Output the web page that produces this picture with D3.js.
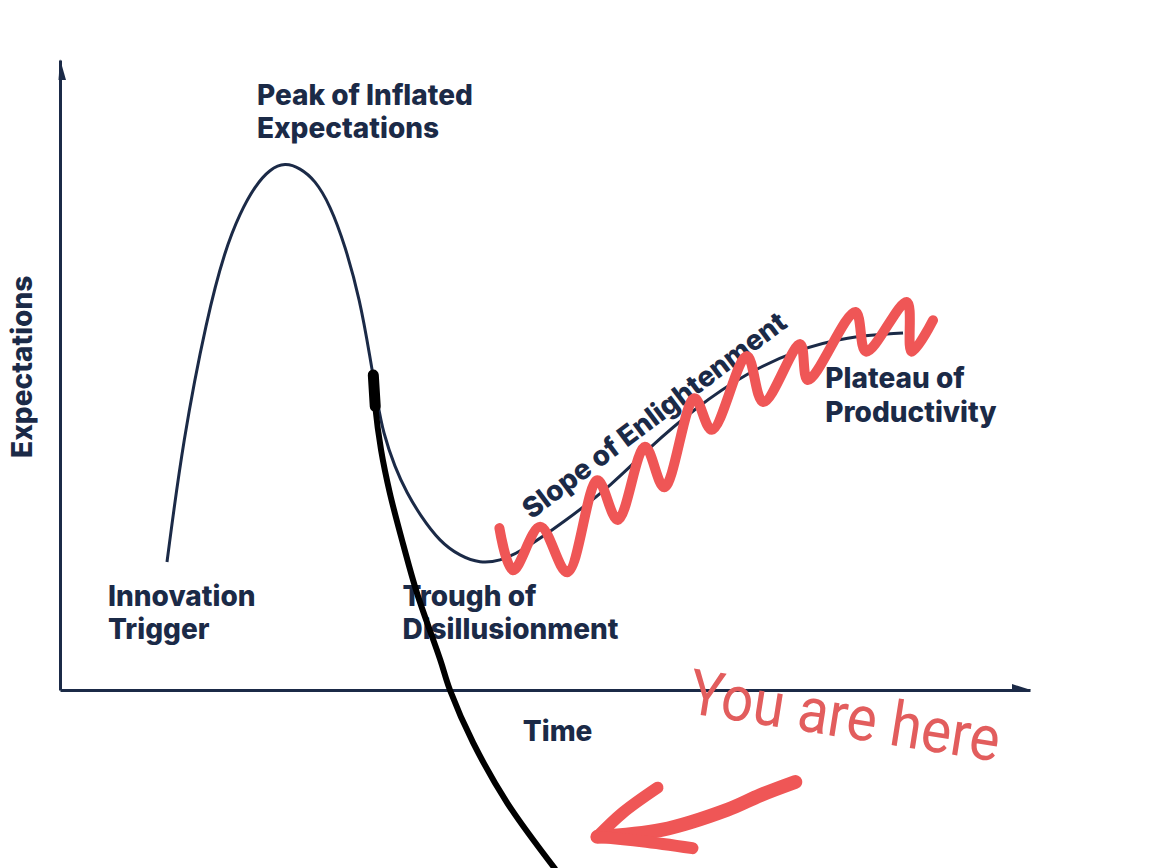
<!DOCTYPE html>
<html><head><meta charset="utf-8">
<script src="https://cdn.jsdelivr.net/npm/d3@7/dist/d3.min.js"></script>
<style>html,body{margin:0;padding:0;background:#fff;} svg{display:block;}</style>
</head><body><svg id="chart" width="1161" height="868"></svg>
<script>
// ---- data (Time 0-100, Expectations 0-100) ----
const hypeTime        = [11.03, 12.68, 15.15, 17.01, 18.56, 20.10, 21.65, 23.20, 24.74, 26.29, 27.84, 29.38, 30.93, 31.96, 32.78, 33.30, 34.54, 35.77, 37.11, 39.18, 41.24, 43.30, 45.36, 47.42, 51.86, 57.01, 60.48, 65.64, 70.79, 75.95, 81.10, 86.91];
const hypeExpectation = [20.32, 39.68, 59.21, 69.84, 75.71, 80.00, 82.70, 83.70, 82.86, 80.95, 76.98, 70.63, 61.90, 52.86, 45.24, 40.95, 35.24, 31.27, 27.78, 23.49, 21.27, 20.10, 20.48, 21.90, 26.51, 32.70, 38.10, 44.97, 50.32, 53.97, 56.08, 56.67];

const phaseNames = [["Innovation", "Trigger"], ["Peak of Inflated", "Expectations"], ["Trough of", "Disillusionment"], ["Slope of Enlightenment"], ["Plateau of", "Productivity"]];
const axisTitles = ["Time", "Expectations"];

// hand-drawn annotations
const zigTime = [45.3, 46.7, 49.5, 52.3, 55.4, 57.5, 60.3, 62.3, 65.4, 67.2, 70.8, 72.5, 76.3, 77.1, 82.0, 83.1, 87.3, 87.8, 90.0];
const zigExp  = [25.7, 19.0, 25.9, 18.7, 33.3, 27.0, 38.6, 32.2, 46.3, 41.3, 53.0, 45.7, 54.9, 49.2, 60.0, 53.7, 61.6, 53.7, 58.7];

const markerTime = [32.3, 32.5, 33.1, 34.0, 35.4, 36.8, 39.2, 40.2, 42.6, 46.1, 51.0];
const markerExp  = [50.0, 45.0, 38.1, 31.3, 23.0, 15.4, 4.8, 0.0, -8.4, -17.9, -28.3];

const arrowShaftTime = [75.8, 72.2, 68.8, 62.0, 55.4];
const arrowShaftExp  = [-14.6, -16.7, -19.0, -22.2, -23.3];
const arrowBarbUpTime = [55.4, 58.0, 61.6];
const arrowBarbUpExp  = [-23.3, -19.5, -15.5];
const arrowBarbLowTime = [55.4, 60.0, 65.2];
const arrowBarbLowExp  = [-23.3, -24.0, -25.1];
const youAreHere = "You are here";

// ---- drawing ----
const navy = "#1b2a47", red = "#ef5656";
const svg = d3.select("#chart");
const x = d3.scaleLinear().domain([0, 100]).range([60, 1030]);
const y = d3.scaleLinear().domain([0, 100]).range([690, 60]);
const zip = (a, b) => a.map((v, i) => [v, b[i]]);
const mkLine = c => d3.line().x(d => x(d[0])).y(d => y(d[1])).curve(c);

// axes
const xAxis = svg.append("g").attr("transform", `translate(0,${y(0)})`)
  .call(d3.axisBottom(x).ticks(0).tickSizeOuter(0));
const yAxis = svg.append("g").attr("transform", `translate(${x(0)},0)`)
  .call(d3.axisLeft(y).ticks(0).tickSizeOuter(0));
[xAxis, yAxis].forEach(g => g.select(".domain").attr("stroke", navy).attr("stroke-width", 3));
svg.append("path").attr("fill", navy)
  .attr("d", `M${x(100)+1},${y(0)} L${x(100)-18},${y(0)-6} L${x(100)-18},${y(0)+1.5} Z`);
svg.append("path").attr("fill", navy)
  .attr("d", `M${x(0)},${y(100)-1} L${x(0)+6},${y(100)+20} L${x(0)-1.5},${y(100)+20} Z`);

// hype curve
svg.append("path").datum(zip(hypeTime, hypeExpectation))
  .attr("fill", "none").attr("stroke", navy).attr("stroke-width", 3)
  .attr("d", mkLine(d3.curveBasis));

// labels
const fontBold = "Inter, 'Open Sans', sans-serif";
const FS = 28;
function label(lines, px, py, anchor) {
  const t = svg.append("text").attr("x", px).attr("y", py)
    .attr("fill", navy).attr("font-family", fontBold).attr("font-weight", 800)
    .attr("font-size", FS).attr("text-anchor", anchor || "start");
  lines.forEach((s, i) => t.append("tspan").attr("x", px).attr("dy", i ? 33.5 : 0).text(s));
}
label(phaseNames[0], x(4.95), y(13.4));
label(phaseNames[1], x(20.3), y(92.9));
label(phaseNames[2], x(35.3), y(13.4));
label(phaseNames[4], x(78.9), y(47.9));
label([axisTitles[0]], x(51.3), y(-8.1), "middle");
svg.append("text").attr("transform", `translate(${x(0) - 28},${y(51.3)}) rotate(-90)`)
  .attr("fill", navy).attr("font-family", fontBold).attr("font-weight", 800)
  .attr("font-size", FS).attr("text-anchor", "middle").text(axisTitles[1]);
svg.append("text").attr("transform", `translate(${x(48.6)},${y(27.0)}) rotate(-37)`)
  .attr("fill", navy).attr("font-family", fontBold).attr("font-weight", 800)
  .attr("font-size", FS).text(phaseNames[3][0]);

// red zigzag
svg.append("path").datum(zip(zigTime, zigExp))
  .attr("fill", "none").attr("stroke", red).attr("stroke-width", 10)
  .attr("stroke-linejoin", "round").attr("stroke-linecap", "round")
  .attr("d", mkLine(d3.curveCatmullRom.alpha(0.5)));

// black marker
const mk = zip(markerTime, markerExp);
svg.append("path").datum(mk)
  .attr("fill", "none").attr("stroke", "#000").attr("stroke-width", 6).attr("stroke-linecap", "round")
  .attr("d", mkLine(d3.curveCatmullRom));
svg.append("path").datum(mk.slice(0, 2))
  .attr("fill", "none").attr("stroke", "#000").attr("stroke-width", 11).attr("stroke-linecap", "round")
  .attr("d", mkLine(d3.curveLinear));

// red arrow
[[arrowShaftTime, arrowShaftExp, 14], [arrowBarbUpTime, arrowBarbUpExp, 12], [arrowBarbLowTime, arrowBarbLowExp, 12]].forEach(([a, b, w]) => {
  svg.append("path").datum(zip(a, b))
    .attr("fill", "none").attr("stroke", red).attr("stroke-width", w)
    .attr("stroke-linecap", "round").attr("stroke-linejoin", "round")
    .attr("d", mkLine(d3.curveCatmullRom));
});

// "You are here"
svg.append("text").attr("transform", `translate(${x(64.6)},${y(-3.6)}) rotate(9) scale(0.9,1)`)
  .attr("fill", "#e25d5d").attr("font-family", "Roboto, sans-serif").attr("font-weight", 400)
  .attr("font-size", 63).text(youAreHere);
</script></body></html>
